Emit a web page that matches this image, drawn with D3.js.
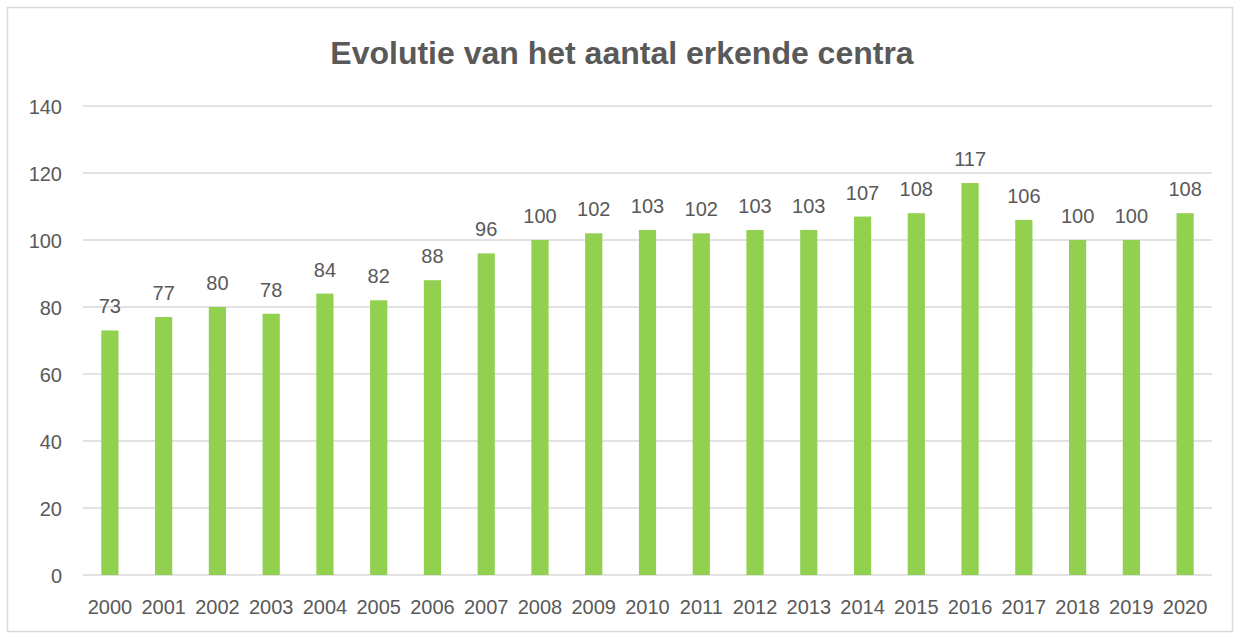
<!DOCTYPE html>
<html>
<head>
<meta charset="utf-8">
<script src="https://cdn.jsdelivr.net/npm/d3@7"></script>
<style>
  body { margin: 0; background: #fff; }
  text { font-family: "Liberation Sans", "DejaVu Sans", sans-serif; fill: #595959; }
</style>
</head>
<body>
<div id="chart"></div>
<script>
var years = ["2000","2001","2002","2003","2004","2005","2006","2007","2008","2009","2010",
             "2011","2012","2013","2014","2015","2016","2017","2018","2019","2020"];
var centra = [73, 77, 80, 78, 84, 82, 88, 96, 100, 102, 103, 102, 103, 103, 107, 108, 117, 106, 100, 100, 108];
var yTicks = [0, 20, 40, 60, 80, 100, 120, 140];

var width = 1241, height = 637;
var margin = {left: 83, right: 29, top: 106, bottom: 62};

var svg = d3.select("#chart").append("svg")
    .attr("width", width).attr("height", height);

// outer frame
svg.append("rect")
    .attr("x", 7.5).attr("y", 7.5)
    .attr("width", 1225).attr("height", 624)
    .attr("fill", "#fff")
    .attr("stroke", "#d9d9d9")
    .attr("stroke-width", 1.5);

svg.append("text")
    .attr("x", 622)
    .attr("y", 64)
    .attr("text-anchor", "middle")
    .style("font-size", "32px")
    .style("font-weight", "bold")
    .text("Evolutie van het aantal erkende centra");

var x = d3.scaleBand()
    .domain(years)
    .range([margin.left, width - margin.right])
    .paddingInner(0.68)
    .paddingOuter(0.34);

var y = d3.scaleLinear()
    .domain([0, 140])
    .range([height - margin.bottom, margin.top]);

// gridlines
svg.append("g")
    .selectAll("line")
    .data(yTicks)
    .enter().append("line")
    .attr("x1", margin.left)
    .attr("x2", width - margin.right)
    .attr("y1", d => y(d))
    .attr("y2", d => y(d))
    .attr("stroke", "#d9d9d9")
    .attr("stroke-width", 1.5);

// y labels
var yAxis = svg.append("g")
    .attr("transform", "translate(" + (margin.left - 21) + ",0)")
    .call(d3.axisLeft(y).tickValues(yTicks).tickSize(0).tickPadding(0));
yAxis.select(".domain").remove();
yAxis.selectAll("text").style("font-size", "20px").attr("dy", "0.35em");

// x labels
var xAxis = svg.append("g")
    .attr("transform", "translate(0," + (height - margin.bottom) + ")")
    .call(d3.axisBottom(x).tickSize(0).tickPadding(0));
xAxis.select(".domain").remove();
xAxis.selectAll("text").style("font-size", "20px").attr("dy", null).attr("y", 39);

// bars
svg.append("g")
    .selectAll("rect")
    .data(centra)
    .enter().append("rect")
    .attr("x", (d, i) => x(years[i]))
    .attr("y", d => y(d))
    .attr("width", x.bandwidth())
    .attr("height", d => y(0) - y(d))
    .attr("fill", "#92d050");

// value labels
svg.append("g")
    .selectAll("text")
    .data(centra)
    .enter().append("text")
    .attr("x", (d, i) => x(years[i]) + x.bandwidth()/2)
    .attr("y", d => y(d) - 17)
    .attr("text-anchor", "middle")
    .style("font-size", "20px")
    .text(d => d);
</script>
</body>
</html>
